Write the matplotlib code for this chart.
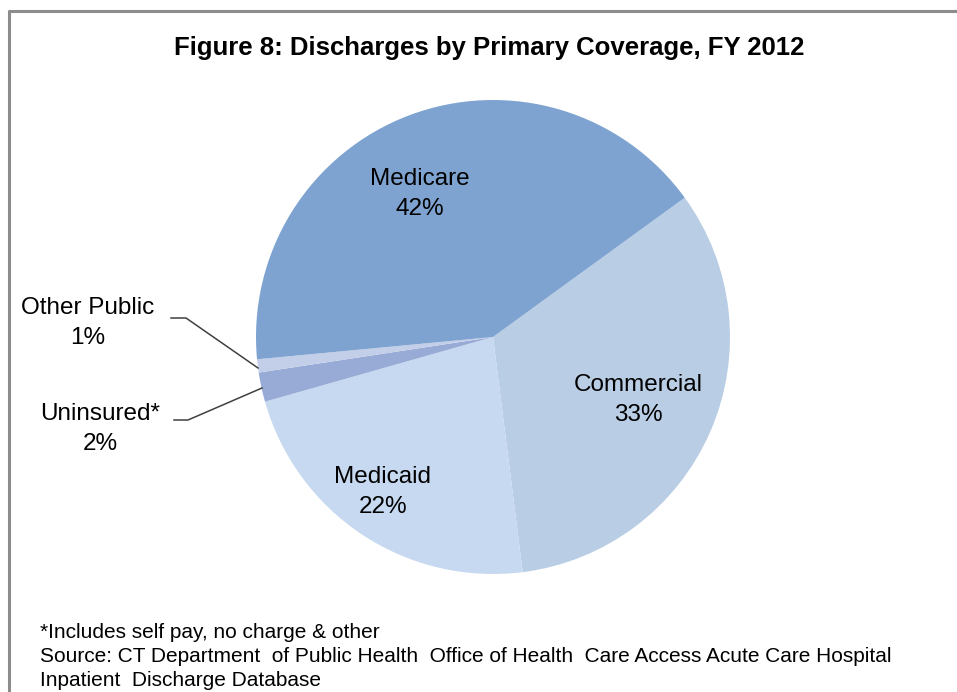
import numpy as np
import matplotlib.pyplot as plt

# slices in clockwise order starting from the upper right
categories = ['Commercial', 'Medicaid', 'Uninsured*', 'Other Public', 'Medicare']
shares = [33.0, 22.6, 2.0, 0.9, 41.5]
pct_labels = ['33%', '22%', '2%', '1%', '42%']
colors = ['#b9cde5', '#c6d9f1', '#97abd6', '#c3cfe8', '#7ea3d0']

title = 'Figure 8: Discharges by Primary Coverage, FY 2012'
notes = ['*Includes self pay, no charge & other',
         'Source: CT Department  of Public Health  Office of Health  Care Access Acute Care Hospital',
         'Inpatient  Discharge Database']

W, H = 957, 692
fig = plt.figure(figsize=(W / 100, H / 100), dpi=100)
ax = fig.add_axes([0, 0, 1, 1])

def py(y):
    return H - y  # pixel rows from the top

font = ['Liberation Sans', 'DejaVu Sans']

wedges, _ = ax.pie(shares, colors=colors, startangle=36, counterclock=False,
                   center=(493, py(337)), radius=237, frame=True,
                   wedgeprops=dict(linewidth=0))
ax.set_xlim(0, W)
ax.set_ylim(0, H)
ax.axis('off')

# chart frame
ax.plot([8.5, 8.5, W + 5], [py(H + 5), py(11), py(11)], color='#8c8c8c', lw=2.2, clip_on=False)

ax.text(489, py(48), title, ha='center', va='center', fontsize=18.5, fontweight='bold',
        family=font, color='black')

# inside labels
inside = {0: (638, 400), 1: (383, 492), 4: (420, 194)}
for i, (x, y) in inside.items():
    ax.text(x, py(y), categories[i] + '\n' + pct_labels[i], ha='center', va='center',
            fontsize=17.5, family=font, linespacing=1.5)

# outside labels with leader lines
ax.text(88, py(323), categories[3] + '\n' + pct_labels[3], ha='center', va='center',
        fontsize=17.5, family=font, linespacing=1.5)
ax.plot([171, 186, 258], [py(318), py(318), py(368)], color='#404040', lw=1.1)
ax.text(100, py(429), categories[2] + '\n' + pct_labels[2], ha='center', va='center',
        fontsize=17.5, family=font, linespacing=1.5)
ax.plot([174, 188, 262], [py(420), py(420), py(388)], color='#404040', lw=1.1)

for k, line in enumerate(notes):
    ax.text(40, py(632 + k * 24.5), line, ha='left', va='center', fontsize=15,
            family=font, color='black')

fig.savefig('out.png', dpi=100, facecolor='white')
